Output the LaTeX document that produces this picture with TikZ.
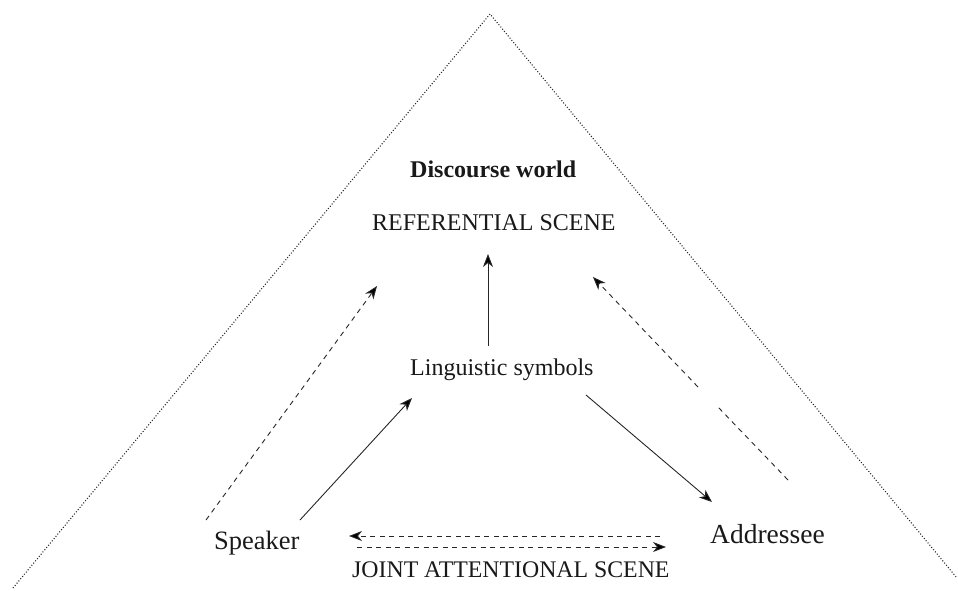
\documentclass[tikz,border=0pt]{standalone}
\usepackage{fontspec}
\setmainfont{Liberation Serif}
\usetikzlibrary{arrows.meta}
\begin{document}
\begin{tikzpicture}[x=1pt,y=-1pt,
  lbl/.style={anchor=base west,inner sep=0pt,text=black!90},
  tip/.style={-{Stealth[length=13pt,width=10pt,inset=4pt,fill=black]}},
  solidarrow/.style={tip,line width=0.9pt,draw=black!85},
  dasharrow/.style={tip,line width=0.9pt,draw=black!85,dash pattern=on 5pt off 4.5pt},
  dashline/.style={line width=0.9pt,draw=black!85,dash pattern=on 5pt off 4.5pt},
  dotline/.style={line width=1.1pt,draw=black!85,dash pattern=on 1pt off 1.9pt}]
\useasboundingbox (0,0) rectangle (958,590);
% outer triangle
\coordinate (tl) at (13,588);
\coordinate (apex) at (490,14);
\coordinate (tr) at (957,578);
\draw[dotline] (tl) -- (apex) -- (tr);
% texts
\node[lbl,font=\bfseries\fontsize{24}{28}\selectfont] (dw) at (410,177) {Discourse world};
\node[lbl,font=\fontsize{24}{28}\selectfont] (ref) at (372,230) {REFERENTIAL SCENE};
\node[lbl,font=\fontsize{24}{28}\selectfont] (ling) at (410,375) {Linguistic symbols};
\node[lbl,font=\fontsize{26.5}{30}\selectfont] (spk) at (214,549) {Speaker};
\node[lbl,font=\fontsize{27.5}{31}\selectfont] (adr) at (710,543) {Addressee};
\node[lbl,font=\fontsize{23.8}{28}\selectfont] (jas) at (352,577) {JOINT ATTENTIONAL SCENE};
% connector end points
\coordinate (v1) at (488,346);
\coordinate (v2) at (488,254);
\coordinate (s1) at (300,520);
\coordinate (s2) at (412,398);
\coordinate (a1) at (586,395);
\coordinate (a2) at (712,502);
\coordinate (l1) at (206,520);
\coordinate (l2) at (377,286);
\coordinate (r1) at (788,480);
\coordinate (r2) at (718,407);
\coordinate (r3) at (698,387);
\coordinate (r4) at (593,277);
\coordinate (b1) at (660,536);
\coordinate (b2) at (349,536);
\coordinate (b3) at (357,547);
\coordinate (b4) at (666,547);
% connectors
\draw[solidarrow] (v1) -- (v2);
\draw[solidarrow] (s1) -- (s2);
\draw[solidarrow] (a1) -- (a2);
\draw[dasharrow] (l1) -- (l2);
\draw[dashline] (r1) -- (r2);
\draw[dasharrow] (r3) -- (r4);
\draw[dasharrow] (b1) -- (b2);
\draw[dasharrow] (b3) -- (b4);
\end{tikzpicture}
\end{document}
